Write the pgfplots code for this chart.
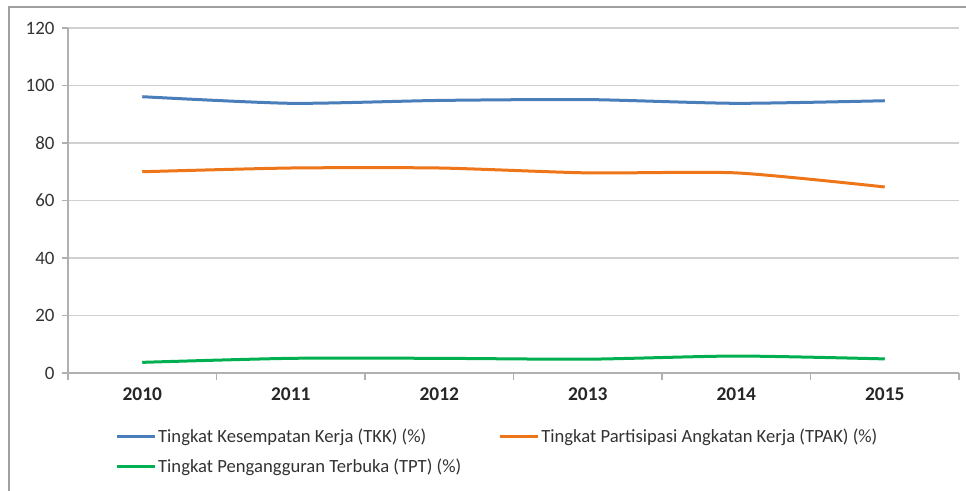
\documentclass[border=0pt]{standalone}
\usepackage{pgfplots}
\pgfplotsset{compat=1.18}
\usepackage{fontspec}
\setmainfont{Carlito}
\definecolor{cblue}{HTML}{4A7EBB}
\definecolor{corange}{HTML}{EE7518}
\definecolor{cgreen}{HTML}{00B050}
\definecolor{gridc}{HTML}{D0D0D0}
\definecolor{axc}{HTML}{B0B0B0}
\begin{document}
\begin{tikzpicture}[x=1bp,y=1bp]
\useasboundingbox (0,0) rectangle (966,491);
\draw[color=gray!75, line width=1.8bp] (9,-20) -- (9,484) -- (990,484);
\begin{axis}[
  at={(68bp,118bp)}, anchor=south west,
  scale only axis, width=891bp, height=345bp,
  xmin=-0.5, xmax=5.5, ymin=0, ymax=120,
  axis x line=bottom, axis y line=left,
  axis line style={-, color=axc, line width=1.2bp},
  xtick={0,...,5},
  xticklabels={2010,2011,2012,2013,2014,2015},
  major x tick style={draw=none},
  minor xtick={-0.5,0.5,...,5.5},
  minor x tick style={color=axc, line width=1.2bp},
  minor tick length=7bp,
  ytick={0,20,...,120},
  major y tick style={color=axc, line width=1.2bp},
  major tick length=6bp,
  tick align=outside,
  ymajorgrids, grid style={color=gridc, line width=1.2bp},
  /pgf/number format/assume math mode=true,
  yticklabel style={font=\fontsize{19}{21}\selectfont, color=black!80, xshift=-4bp},
  xticklabel style={font=\fontsize{19.5}{21}\selectfont\bfseries, color=black!85, yshift=-5bp},
  legend columns=2,
  legend style={at={(0.0527,-0.155)}, anchor=north west, draw=none, fill=none,
    inner sep=0pt, font=\fontsize{18.7}{21}\selectfont, text=black!80,
    /tikz/every even column/.append style={column sep=35bp},
    row sep=11bp},
  legend cell align=left,
  legend image code/.code={\draw[#1, line width=3bp] (0bp,0bp) -- (38bp,0bp);},
  every axis plot/.append style={line width=3bp, smooth, tension=0.4},
]
\addplot[cblue] coordinates {(0,96.1) (1,93.8) (2,94.8) (3,95.1) (4,93.8) (5,94.7)};
\addlegendentry{Tingkat Kesempatan Kerja (TKK) (\%)}
\addplot[corange] coordinates {(0,70.0) (1,71.3) (2,71.3) (3,69.6) (4,69.6) (5,64.7)};
\addlegendentry{Tingkat Partisipasi Angkatan Kerja (TPAK) (\%)}
\addplot[cgreen] coordinates {(0,3.7) (1,5.1) (2,5.1) (3,4.8) (4,5.9) (5,4.9)};
\addlegendentry{Tingkat Pengangguran Terbuka (TPT) (\%)}
\end{axis}
\end{tikzpicture}
\end{document}
